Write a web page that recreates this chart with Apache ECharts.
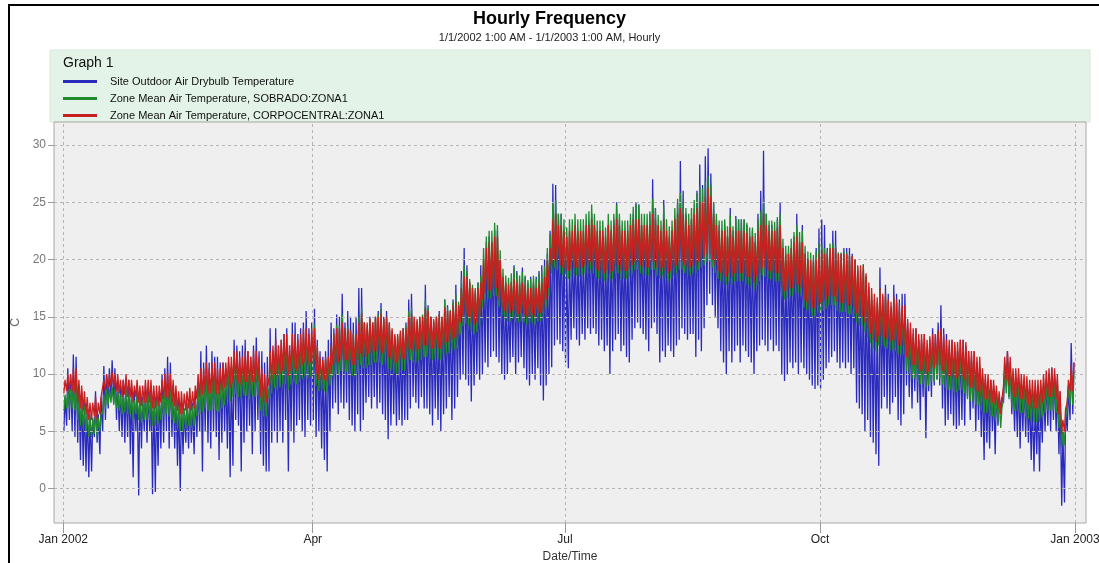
<!DOCTYPE html>
<html><head><meta charset="utf-8">
<script src="https://cdn.jsdelivr.net/npm/echarts@6/dist/echarts.min.js"></script>
<style>html,body{margin:0;padding:0;background:#fff}#c{width:1099px;height:563px}</style>
</head><body><div id="c"></div>
<script>
// x unit: days since 1 Jan 2002 00:00
const seriesNames = ['Site Outdoor Air Drybulb Temperature','Zone Mean Air Temperature, SOBRADO:ZONA1','Zone Mean Air Temperature, CORPOCENTRAL:ZONA1'];
const quarterTicks = [0, 90, 181, 273, 365];
const quarterLabels = ['Jan 2002','Apr','Jul','Oct','Jan 2003'];
const yTicks = [0,5,10,15,20,25,30];

// daily highs / lows (one value per day, Jan 1 .. Dec 31)
const blueHi = [
8,10.5,10,11.7,11.5,9,8.5,7.5,7,6.5,6,8.5,6.5,8,10.7,10,10.5,11.2,10.5,9.5,9,9.5,9,9.5,9,8.5,9,8.5,8,9,8.5,
9,8.5,8,8.5,10,10.5,11.5,11,9,8.5,8,7.5,7,7.5,8,7.5,8.5,9,12,11,12.5,11,12,11.5,11.5,11,11,10.5,
11,10.5,13,12.5,12,12.5,13,12,11.5,12.5,13.2,12,12,11,11.5,14,12,14,12.5,13,13.5,14,12.5,14.5,14.5,13.5,14,14.5,15.5,14,14.5,
15.7,13,12,11.5,12,13,14.5,14,15.2,15,17,14.5,15.5,15,14.5,15,17.5,17.5,14.5,14,15,14.5,15,15.5,16.2,15,15.5,14.5,13.5,13,
12.5,13.5,14,14.5,16.5,17,14.5,14,14.5,15,17.8,16,15,14.5,15,15.5,14.5,16.5,16,15.5,16.5,17.8,16,19,21,19.5,18,17.5,17,18,19.5,
19.5,21.5,22,21.5,22.6,22.5,20,18,17.5,17,18,19.5,19,18,19.3,18.5,18,18.5,18,18.5,19,19.5,20,20.5,22.5,26.6,26.5,24,24,22,
20,21,21.5,22,21.5,22,21.5,22.5,23,24,23,22,22.5,22,21.5,23,22,23.5,25,23.5,22,22.5,22,23,24,25,24.8,23,22.5,23,24,
27,24.5,23,22,25.2,22,21.5,22.5,23.5,25,28.6,26,24,23,23.5,24.5,26,28.3,26.5,29,29.7,27.5,25,23.5,23,22.5,23,22,24.5,22.5,23.8,
23.5,23.5,23.5,23,22,22.5,21.5,24,26,29.5,24,23,23,22.5,23.5,25,21,20,20.5,21,22,24,21.5,23,20.5,20,19.5,20,21,22.7,
23.5,23,21,20.5,22.5,22.5,20,20.5,21,21,21,20.5,20,19,18,19,18.5,17,16.5,16,15,19.3,16,17.8,17,15.5,17.8,17,16.5,17,17,
14.5,14,13.5,14,13,13,13.5,12,13,14,13.5,14.5,16,14,13.5,12.5,13,12.5,12,13,13,12.5,12,11.5,12,11,10.5,10,9.5,9,
9.5,9,8.5,8,8,10.5,12,11,10,9.5,10,9,9.5,9,8.5,8,7.5,8,7.5,9,9.5,10,10.6,10,9.5,8.5,5,7,9,12.7,11];
const blueLo = [
5,5.5,6,5,4.5,4,2.5,2,1.5,1,1.5,4.5,4,3,5,6,7,8,7.5,6,5,4.5,4,4.5,3,1,5,-0.6,3.5,5,4,
5,-0.5,-0.3,2,3.5,4,5,3.5,4.5,3.5,2,-0.2,3,4,3.5,4,3,4.5,5,1.5,5,4,3.5,5,4.5,2.5,4,5,
3.5,1,2,6,5.5,1.5,4,5,5.5,3,5,6,3,2,1.5,1.5,4,5,4,5,4,6,1.5,5,4,5.5,6,5,4.5,6,5.5,
6,4.5,5,3.5,2.5,1.5,5,7,7.5,6.5,7.5,7,7.5,6,5.5,5,6.5,5,6,7.5,8,7,8,7,7.5,6.5,6,4.3,5.5,6.5,
5.5,6,5.5,6,6,7,8,7.5,7,8,7,7,6.5,5.5,7,6,5,6.5,7,8,6,7,8,9.5,10,9.5,9,7.6,9,10,9.5,
10,11,10.6,11.5,12,11.5,11,10,9.5,10,11,11.5,10,11,11.5,10.5,9.5,9,10,9.5,10.5,9,7.7,9,10,10.6,12.5,13,12.6,12,
11,10.5,13,14,13,12.5,13.5,13,14,13.5,14,13.5,12.5,13,12,12.5,10,12,13,13.5,12,12.5,11.5,11,13,14,14.5,14,13.5,13,12,
14,14.5,13.5,11,12,11.5,12.5,12,11.5,12.5,13,14,13.5,13,13.5,13.5,11.5,13,12,14,16,17,16,15,14,12,11,10,12,11,12,
12.5,11,12.5,12,11.5,11,10,12,12.5,13,12.5,12,13,12,12.5,12,10,9.4,10,11,10.5,11,10,11,10.5,10,9.5,9,8.7,9,
8.7,9.5,10.5,11,11.5,12,11,10.5,11,10.5,11,10,10.5,7.5,7,6.5,5,6,4.5,4,3,2,7,8,7,6.5,7.5,8,6,5.5,6.5,
9,8,7,8.5,7.5,6,8,4.4,8.5,8,9,9.5,9,7,5.5,6,6.5,5.5,5.2,5.5,6,5.5,8,6,7,5,6,4.5,2.5,4,
3.5,5,3,5.5,7,7.5,9,8,6.5,5,4.5,3.5,5,4.5,4,2.5,1.5,3,1.5,4,5,5.5,5,6,5,3,-1.5,-1.2,5,6,6.5];
const greenHi = [
8.2,8.7,8.7,9.2,9.2,8.2,7.7,7.2,6.7,6.2,6.2,6.7,6.2,6.7,8.2,8.7,8.7,8.9,8.7,8.7,8.2,8.2,8.7,8.2,8.2,7.7,8.2,7.7,7.7,8.2,8.2,
8.2,7.7,7.7,7.7,8.2,8.7,8.9,8.7,8.2,7.7,7.2,7.2,7,7.2,7.5,7.2,7.7,8.7,9.2,9.2,9.7,9.2,9.7,9.7,9.2,9.2,9.7,9.7,
10.7,10.7,11.2,11.2,10.7,10.7,11.2,11.2,10.7,11.2,11.2,10.7,9.7,9.2,9,11.2,11.7,12.2,11.7,12.2,12.7,12.7,11.7,12.7,12.7,12.2,12.7,13.2,13.2,12.7,13.2,
14.3,12.3,11.3,11,11.3,11.3,12.5,13.5,14.3,14.2,15.2,14,14.2,13.8,13.5,13.5,15,15.8,14.5,14.3,14.8,14.5,15,15.2,15.7,14.8,15,14.3,13.8,13.3,
13.3,13.6,14,14.2,15.5,15.8,15,14.6,15,15.2,16.5,15.8,15,14.6,15,15.2,15,16.5,15.8,15.6,16.3,17,16.3,18.3,19.5,19,18.3,17.8,17.5,18,18.6,
21,22,22.5,22.5,23.2,23,20.8,19.2,18.6,18.4,18.8,19.3,18.8,18.6,18.9,18.6,18.2,18.3,18.6,18.3,18.8,19,19.4,21,22.2,25,25.2,24,24,23.5,
22.8,23.5,23.5,24,23.5,23.5,23.5,24,24.2,24.8,24,23.4,23.4,23.4,22.8,24,23.4,24,24.8,24,23.4,23.4,23.4,24,24.6,24.8,24.8,24,24,24,24.2,
25.3,24.5,23.9,23.4,24.7,23.5,22.9,23.4,24.5,25.3,25.8,25,24.5,24,24.5,25.2,25.8,26.4,26.2,26.8,27.3,26.5,25,24,23.4,23.4,23.5,22.9,23.9,22.9,23.6,
23.5,23.5,23.5,23.2,22.8,22.8,22.3,23.5,24.2,25.3,24,23.4,23.4,23.3,23.7,24,21.8,21.2,21.2,21.8,22.4,23,22.4,22.5,21.2,20.7,20.6,20.4,20.7,21.4,
21.3,21,20.8,21.4,21.4,21.2,20.6,20.6,20.7,20.6,20.4,20.3,20,19.3,19.2,19.6,18.6,17.6,17,16.5,16.2,17.5,16.8,16.8,16.2,15.8,16.6,16.2,15.5,15.5,15.5,
14,13.7,13.2,13.2,12.7,12.7,12.7,12.2,12.5,12.7,12.7,13,13.4,12.7,12.2,12.2,12.2,12,12,12.2,12.2,12,11.2,11.2,11.2,10.7,10.7,9.7,9.2,9.2,
8.7,8.7,8.2,7.7,7,10.5,11,10.5,9.7,9.7,9.7,9.2,9.2,9,8.7,8.7,8.7,8.7,8.7,9.2,9.5,9.7,9.7,9.7,9.2,7.7,5.2,6.2,8.7,10,10.2];
const greenLo = [
6.8,7,7,7,6.8,6,5.5,5.3,5,4.5,4.5,4.8,4.5,5,6.5,7,7.3,7.5,7.3,7,6.8,6.5,6.7,6.5,6.5,6,6.5,6,5.7,6,6,
6,5.5,5.5,5.7,6,6.3,6.5,6.3,6,5.7,5.3,5,5,5.3,5.5,5.3,5.5,6.3,6.5,6.7,7,6.8,6.8,7,6.8,6.7,7,7.3,
7.8,7.6,8,8.3,8,7.8,8.1,8.1,7.8,8.1,8,8.1,6.8,6.3,6.3,7.8,8.3,8.8,8.6,8.8,9.1,9.1,8.6,9.1,9.3,9.1,9.3,9.6,9.8,9.6,9.8,
10,9,8.5,8.5,8.5,8.3,9,9.8,10,10,10.3,10.2,10.2,10,9.8,9.8,10.2,10.8,10.5,10.5,10.8,10.8,11,11,11,10.8,11,10.5,10.3,10,
10,10.2,10.3,10.3,11,11.2,11,11,11.2,11.2,11.5,11.5,11.3,11.2,11.3,11.3,11.2,11.5,11.8,11.8,12,12.2,12.2,13.5,14.2,14.4,14.2,13.7,13.5,13.7,14.2,
15.8,16.3,16.6,16.6,16.8,16.8,15.8,15.1,14.8,14.6,14.6,14.8,14.6,14.5,14.6,14.5,14.3,14.3,14.5,14.3,14.6,14.6,14.8,15.8,16.8,18.8,19.3,19.1,18.8,18.6,
18.3,18.3,18.5,18.6,18.6,18.5,18.6,18.8,18.8,19.1,18.8,18.5,18.3,18.3,18.1,18.3,18.1,18.3,18.8,18.8,18.3,18.3,18.3,18.5,18.8,19.1,19.1,18.8,18.6,18.6,18.6,
19.1,19.1,18.6,18.3,18.6,18.3,18.1,18.3,18.6,18.8,19.1,19.1,18.8,18.6,18.6,18.8,18.8,19.1,19.3,19.5,19.8,19.8,19.3,18.8,18.3,18.1,17.8,17.8,18.1,17.8,18.1,
18.1,18.1,18.1,17.8,17.8,17.6,17.3,17.8,18.1,18.6,18.5,18.3,18.3,18.1,18.1,18.1,16.8,16.5,16.6,16.8,16.8,17.1,17.1,16.8,15.8,15.6,15.3,15.1,15,15.3,
15.4,15.5,15.7,16,16,16,15.5,15.4,15.4,15.4,15.2,15.2,15,14.5,14.2,14.2,13.7,13.2,12.7,12.2,12,12.5,12.5,12.4,12.2,12,12.2,12,11.7,11.7,11.7,
10.3,10,9.6,9.6,9.3,9.1,9.1,8.8,9,9.3,9.3,9.6,9.6,9.1,8.8,8.6,8.6,8.5,8.4,8.6,8.6,8.3,7.8,7.6,7.6,7.3,7.3,6.8,6.6,6.6,
6.3,6.3,6.1,5.8,5.3,7.8,8.3,7.8,7.1,6.8,6.8,6.6,6.6,6.3,6.1,5.8,5.8,5.8,5.8,6.3,6.6,6.8,6.8,6.8,6.6,5.3,3.6,3.8,6.3,7.3,7.3];
const redHi = [
9.5,10,10,10.5,10.5,9.5,9,8.5,8,7.5,7.5,8,7.5,8,9.5,10,10,10.2,10,10,9.5,9.5,10,9.5,9.5,9,9.5,9,9,9.5,9.5,
9.5,9,9,9,9.5,10,10.2,10,9.5,9,8.5,8.5,8.3,8.5,8.8,8.5,9,10,10.5,10.5,11,10.5,11,11,10.5,10.5,11,11,
11.5,11.5,12,12,11.5,11.5,12,12,11.5,12,12,11.5,10.5,10,9.8,12,12.5,13,12.5,13,13.5,13.5,12.5,13.5,13.5,13,13.5,14,14,13.5,14,
14,12.5,11.5,11.2,11.5,11.5,12.5,13.5,14,14,14.5,14,14,13.8,13.5,13.5,14.5,15.3,14.5,14.5,14.8,14.5,15,15,15.3,14.8,15,14.5,14,13.5,
13.5,13.8,14,14,15,15.3,15,14.8,15,15,15.8,15.5,15,14.8,15,15.2,15,15.8,15.5,15.5,16,16.3,16,17.5,18.5,18.5,18,17.5,17.3,17.5,18,
20,21,21.5,21.5,22,22,20,18.5,18,17.8,18,18.3,18,17.8,18,17.8,17.5,17.5,17.8,17.5,18,18,18.5,20,21,23.5,24,23,23,22.5,
22,22.5,22.5,23,22.5,22.5,22.5,23,23,23.5,23,22.5,22.5,22.5,22,23,22.5,23,23.5,23,22.5,22.5,22.5,23,23.5,23.5,23.5,23,23,23,23,
24,23.5,23,22.5,23.5,22.5,22,22.5,23.5,24,24.5,24,23.5,23,23.5,24,24.5,25,25,25.5,26.3,25.5,24,23,22.5,22.5,22.5,22,22.8,22,22.5,
22.5,22.5,22.5,22.3,22,22,21.5,22.5,23,24,23,22.5,22.5,22.5,22.8,23,21,20.5,20.5,21,21.5,22,21.5,21.5,20.5,20,20,19.8,20,20.5,
20.8,20.5,20.5,21,21,21,20.5,20.5,20.5,20.5,20.3,20.3,20,19.5,19.5,19.5,18.8,18,17.5,17,16.7,17.5,17,17,16.5,16.3,16.8,16.5,16,16,16,
14.8,14.5,14,14,13.5,13.5,13.5,13,13.3,13.5,13.5,13.8,14,13.5,13,13,13,12.8,12.8,13,13,12.8,12,12,12,11.5,11.5,10.5,10,10,
9.5,9.5,9,8.5,7.8,11.5,12,11.5,10.5,10.5,10.5,10,10,9.8,9.5,9.5,9.5,9.5,9.5,10,10.3,10.5,10.5,10.5,10,8.5,6,7,9.5,10.8,11];
const redLo = [
8.3,8.5,8.5,8.5,8.3,7.5,7,6.8,6.5,6,6,6.3,6,6.5,8,8.5,8.8,9,8.8,8.5,8.3,8,8.2,8,8,7.5,8,7.5,7.2,7.5,7.5,
7.5,7,7,7.2,7.5,7.8,8,7.8,7.5,7.2,6.8,6.5,6.5,6.8,7,6.8,7,7.8,8,8.2,8.5,8.3,8.3,8.5,8.3,8.2,8.5,8.8,
9,8.8,9.2,9.5,9.2,9,9.3,9.3,9,9.3,9.2,9.3,8,7.5,7.5,9,9.5,10,9.8,10,10.3,10.3,9.8,10.3,10.5,10.3,10.5,10.8,11,10.8,11,
11,10,9.5,9.5,9.5,9.3,10,10.8,11,11,11.3,11.2,11.2,11,10.8,10.8,11.2,11.8,11.5,11.5,11.8,11.8,12,12,12,11.8,12,11.5,11.3,11,
11,11.2,11.3,11.3,12,12.2,12,12,12.2,12.2,12.5,12.5,12.3,12.2,12.3,12.3,12.2,12.5,12.8,12.8,13,13.2,13.2,14.5,15,15.2,15,14.5,14.3,14.5,15,
16.5,17,17.3,17.3,17.5,17.5,16.5,15.8,15.5,15.3,15.3,15.5,15.3,15.2,15.3,15.2,15,15,15.2,15,15.3,15.3,15.5,16.5,17.5,19.5,20,19.8,19.5,19.3,
19,19,19.2,19.3,19.3,19.2,19.3,19.5,19.5,19.8,19.5,19.2,19,19,18.8,19,18.8,19,19.5,19.5,19,19,19,19.2,19.5,19.8,19.8,19.5,19.3,19.3,19.3,
19.8,19.8,19.3,19,19.3,19,18.8,19,19.3,19.5,19.8,19.8,19.5,19.3,19.3,19.5,19.5,19.8,20,20.2,20.5,20.5,20,19.5,19,18.8,18.5,18.5,18.8,18.5,18.8,
18.8,18.8,18.8,18.5,18.5,18.3,18,18.5,18.8,19.3,19.2,19,19,18.8,18.8,18.8,17.5,17.2,17.3,17.5,17.5,17.8,17.8,17.5,16.5,16.3,16,15.8,15.7,16,
16.2,16.3,16.5,16.8,16.8,16.8,16.3,16.2,16.2,16.2,16,16,15.8,15.3,15,15,14.5,14,13.5,13,12.8,13.3,13.3,13.2,13,12.8,13,12.8,12.5,12.5,12.5,
11.5,11.2,10.8,10.8,10.5,10.3,10.3,10,10.2,10.5,10.5,10.8,10.8,10.3,10,9.8,9.8,9.7,9.6,9.8,9.8,9.5,9,8.8,8.8,8.5,8.5,8,7.8,7.8,
7.5,7.5,7.3,7,6.5,9,9.5,9,8.3,8,8,7.8,7.8,7.5,7.3,7,7,7,7,7.5,7.8,8,8,8,7.8,6.5,4.8,5,7.5,8.5,8.5];

const LO_HOUR = 5, HI_HOUR = 15;
function build(lo, hi) {
  const out = [];
  for (let d = 0; d < lo.length; d++) {
    out.push([d + LO_HOUR / 24, lo[d]]);
    out.push([d + HI_HOUR / 24, hi[d]]);
  }
  return out;
}
const colors = ['#2a2abd', '#1f8a2e', '#c82020'];
const font = 'Liberation Sans, Arial, sans-serif';
const chart = echarts.init(document.getElementById('c'), null, {renderer: 'canvas'});
const gridMarks = quarterTicks.map(v => ({xAxis: v})).concat(yTicks.map(v => ({yAxis: v})));
chart.setOption({
  animation: false,
  backgroundColor: '#ffffff',
  textStyle: {fontFamily: font},
  title: {
    text: 'Hourly Frequency',
    subtext: '1/1/2002 1:00 AM - 1/1/2003 1:00 AM, Hourly',
    left: 'center', top: 5, itemGap: 4,
    textStyle: {fontFamily: font, fontSize: 18, fontWeight: 'bold', color: '#000'},
    subtextStyle: {fontFamily: font, fontSize: 11, color: '#222'}
  },
  graphic: [
    {type: 'rect', z: -10, shape: {x: 9, y: 5, width: 1100, height: 600}, style: {fill: 'none', stroke: '#000', lineWidth: 2}},
    {type: 'rect', z: -9, shape: {x: 50, y: 50, width: 1040, height: 72}, style: {fill: '#e3f3e7', stroke: '#d8e8dc', lineWidth: 1}},
    {type: 'text', z: 5, left: 63, top: 56, style: {text: 'Graph 1', font: '14px ' + font, fill: '#111'}}
  ],
  legend: {
    orient: 'vertical', left: 58, top: 71, itemWidth: 34, itemHeight: 3, itemGap: 6,
    icon: 'rect', data: seriesNames,
    textStyle: {fontFamily: font, fontSize: 11, color: '#111', padding: [0, 0, 0, 8]}
  },
  grid: {left: 54, right: 13, top: 122, bottom: 40, show: true, outerBoundsMode: 'none', containLabel: false,
    backgroundColor: '#efefef', borderColor: '#a8a8a8', borderWidth: 1},
  xAxis: {
    type: 'value', min: -3.35, max: 368.97,
    name: 'Date/Time', nameLocation: 'middle', nameGap: 27,
    nameTextStyle: {fontFamily: font, fontSize: 12, color: '#333'},
    axisLine: {show: false, onZero: false},
    splitLine: {show: false},
    axisTick: {show: true, customValues: quarterTicks, length: 10, lineStyle: {color: '#999'}},
    minorTick: {show: false},
    axisLabel: {customValues: quarterTicks, color: '#222', fontSize: 12, margin: 11,
      formatter: v => quarterLabels[quarterTicks.indexOf(v)] || ''}
  },
  yAxis: {
    type: 'value', min: -3, max: 32,
    name: 'C', nameLocation: 'middle', nameGap: 27, nameRotate: 90,
    nameTextStyle: {fontFamily: font, fontSize: 12, color: '#666'},
    axisLine: {show: false, onZero: false},
    splitLine: {show: false},
    axisTick: {show: true, customValues: yTicks, length: 6, lineStyle: {color: '#999'}},
    axisLabel: {customValues: yTicks, color: '#777', fontSize: 12, margin: 8}
  },
  series: [
    {name: 'grid', type: 'line', data: [], z: 1, silent: true,
      markLine: {silent: true, symbol: 'none', label: {show: false}, animation: false,
        lineStyle: {color: '#b4b4b4', type: [3, 3], width: 1}, data: gridMarks}},
    {name: seriesNames[0], type: 'line', data: build(blueLo, blueHi), showSymbol: false, color: colors[0], lineStyle: {width: 1.3}, z: 3},
    {name: seriesNames[1], type: 'line', data: build(greenLo, greenHi), showSymbol: false, color: colors[1], lineStyle: {width: 1.3}, z: 4},
    {name: seriesNames[2], type: 'line', data: build(redLo, redHi), showSymbol: false, color: colors[2], lineStyle: {width: 1.3}, z: 5}
  ]
});
</script></body></html>
